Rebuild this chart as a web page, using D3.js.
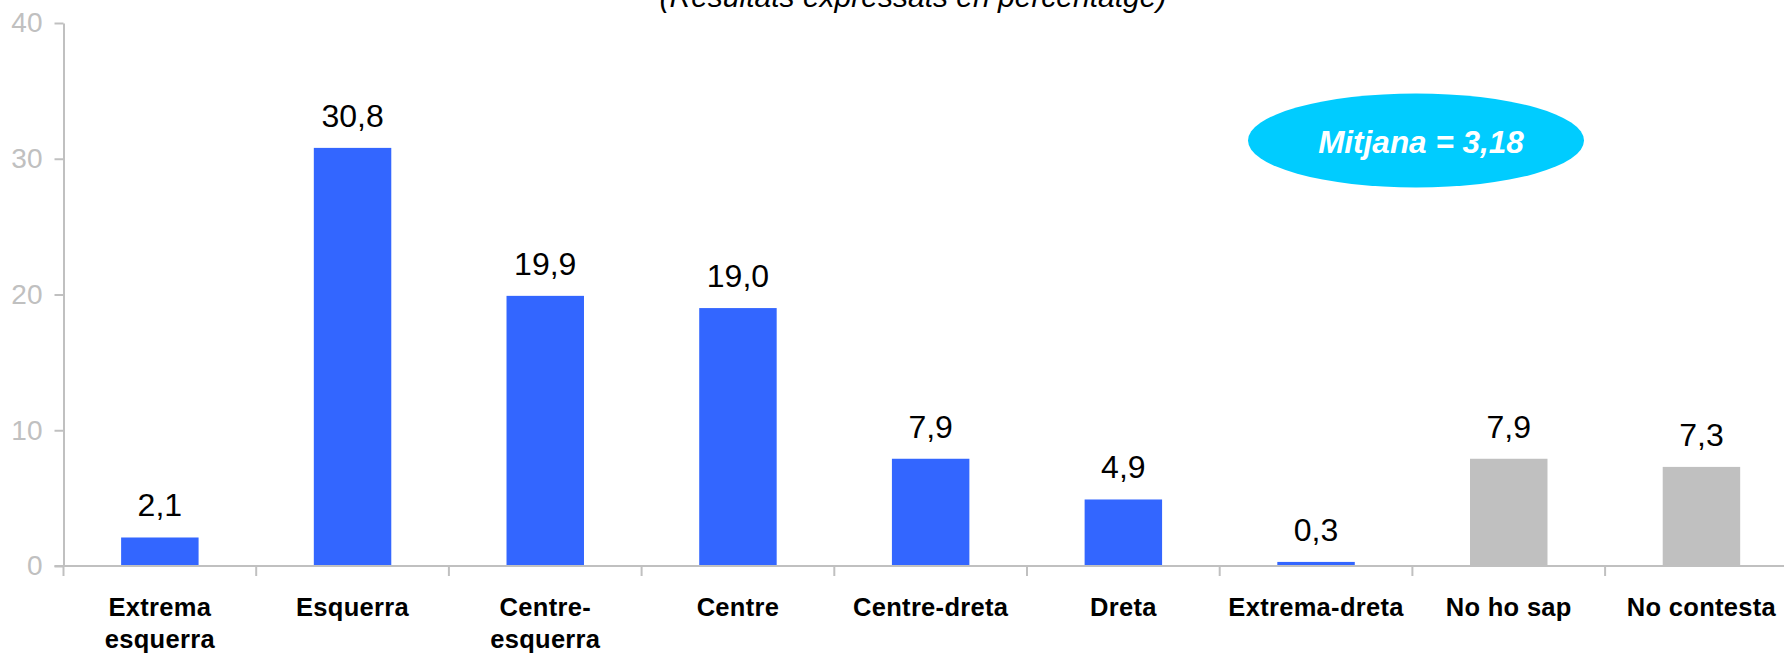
<!DOCTYPE html>
<html>
<head>
<meta charset="utf-8">
<script src="https://cdn.jsdelivr.net/npm/d3@7"></script>
<style>
  html, body { margin: 0; padding: 0; background: #ffffff; }
  svg { display: block; font-family: "Liberation Sans", Arial, sans-serif; }
</style>
</head>
<body>
<svg id="chart" width="1784" height="654"></svg>
<script>
// Ideological self-placement, percentages
const categories = ["Extrema esquerra", "Esquerra", "Centre-esquerra", "Centre", "Centre-dreta", "Dreta", "Extrema-dreta", "No ho sap", "No contesta"];
const categoryLines = [["Extrema", "esquerra"], ["Esquerra"], ["Centre-", "esquerra"], ["Centre"], ["Centre-dreta"], ["Dreta"], ["Extrema-dreta"], ["No ho sap"], ["No contesta"]];
const values = [2.1, 30.8, 19.9, 19.0, 7.9, 4.9, 0.3, 7.9, 7.3];
const valueLabels = ["2,1", "30,8", "19,9", "19,0", "7,9", "4,9", "0,3", "7,9", "7,3"];
const nonResponse = ["No ho sap", "No contesta"];
const yTicks = [0, 10, 20, 30, 40];
const subtitle = "(Resultats expressats en percentatge)";
const meanLabel = "Mitjana = 3,18";

const svg = d3.select("#chart");
const axisColor = "#c0c0c0";

const x0 = 63.5, step = 192.7;
const x = d3.scaleBand()
  .domain(categories)
  .range([x0, x0 + step * categories.length])
  .padding(0);

const y = d3.scaleLinear().domain([0, 40]).range([566, 23]);

const barW = x.bandwidth() * 0.402;

// Subtitle, partly above the visible area
svg.append("text")
  .attr("x", 913).attr("y", 7)
  .attr("text-anchor", "middle")
  .attr("font-size", 30).attr("font-style", "italic")
  .attr("fill", "#000")
  .text(subtitle);

// Y axis
const yAxis = d3.axisLeft(y).tickValues(yTicks).tickSize(9).tickPadding(12).tickSizeOuter(0);
const gy = svg.append("g").attr("transform", `translate(${x0},0)`).call(yAxis);
gy.select(".domain").attr("stroke", axisColor).attr("stroke-width", 2);
gy.selectAll(".tick line").attr("stroke", axisColor).attr("stroke-width", 2);
gy.selectAll(".tick text")
  .attr("font-size", 28).attr("fill", axisColor)
  .attr("font-family", "Liberation Sans, Arial, sans-serif");

// Bars
svg.append("g").selectAll("rect")
  .data(categories)
  .join("rect")
  .attr("x", (d) => x(d) + (x.bandwidth() - barW) / 2)
  .attr("y", (d, i) => y(values[i]))
  .attr("width", barW)
  .attr("height", (d, i) => y(0) - y(values[i]))
  .attr("fill", (d) => nonResponse.includes(d) ? "#c0c0c0" : "#3366ff");

// X axis: baseline with ticks at the category boundaries
const boundaries = d3.range(categories.length + 1).map((i) => x0 + i * x.step());
svg.append("line")
  .attr("x1", x0 - 9).attr("x2", 1784)
  .attr("y1", y(0)).attr("y2", y(0))
  .attr("stroke", axisColor).attr("stroke-width", 2);
svg.append("g").selectAll("line")
  .data(boundaries)
  .join("line")
  .attr("x1", (d) => d).attr("x2", (d) => d)
  .attr("y1", y(0)).attr("y2", y(0) + 10)
  .attr("stroke", axisColor).attr("stroke-width", 2);

// Value labels
svg.append("g").selectAll("text")
  .data(categories)
  .join("text")
  .attr("x", (d) => x(d) + x.bandwidth() / 2)
  .attr("y", (d, i) => y(values[i]) - 21)
  .attr("text-anchor", "middle")
  .attr("font-size", 32).attr("fill", "#000")
  .text((d, i) => valueLabels[i]);

// Category labels
const catG = svg.append("g").selectAll("text")
  .data(categories)
  .join("text")
  .attr("x", (d) => x(d) + x.bandwidth() / 2)
  .attr("y", 616)
  .attr("text-anchor", "middle")
  .attr("font-size", 25.5).attr("font-weight", "bold")
  .attr("letter-spacing", 0.3)
  .attr("fill", "#000");
catG.selectAll("tspan")
  .data((d, i) => categoryLines[i])
  .join("tspan")
  .attr("x", function () { return this.parentNode.getAttribute("x"); })
  .attr("dy", (d, j) => j === 0 ? 0 : 32)
  .text((d) => d);

// Mean badge
const badge = svg.append("g");
badge.append("ellipse")
  .attr("cx", 1416).attr("cy", 140.5)
  .attr("rx", 168).attr("ry", 47)
  .attr("fill", "#00ccff");
badge.append("text")
  .attr("x", 1421).attr("y", 153)
  .attr("text-anchor", "middle")
  .attr("font-size", 31.5).attr("font-weight", "bold").attr("font-style", "italic")
  .attr("fill", "#ffffff")
  .text(meanLabel);
</script>
</body>
</html>
